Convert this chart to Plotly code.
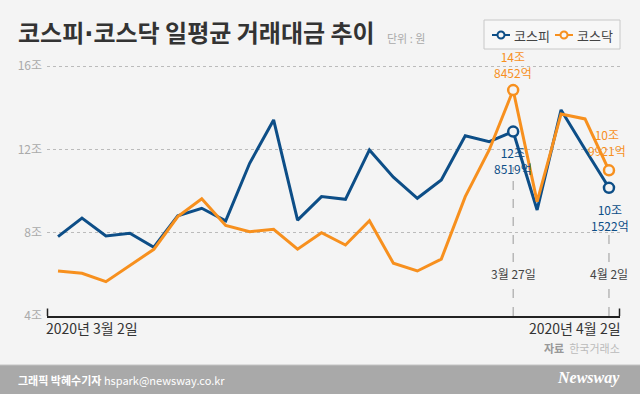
import plotly.graph_objects as go

# ---------------- data ----------------
dates = ["3/2", "3/3", "3/4", "3/5", "3/6", "3/9", "3/10", "3/11", "3/12", "3/13",
         "3/16", "3/17", "3/18", "3/19", "3/20", "3/23", "3/24", "3/25", "3/26", "3/27",
         "3/30", "3/31", "4/1", "4/2"]
kospi = [7.81, 8.70, 7.84, 7.97, 7.30, 8.81, 9.17, 8.57, 11.33, 13.41,
         8.60, 9.73, 9.60, 11.97, 10.66, 9.65, 10.53, 12.65, 12.37, 12.8519,
         9.09, 13.89, 12.00, 10.1522]
kosdaq = [6.16, 6.05, 5.65, 6.41, 7.20, 8.77, 9.63, 8.35, 8.05, 8.16,
          7.21, 8.00, 7.41, 8.57, 6.53, 6.16, 6.73, 9.73, 11.97, 14.8452,
          9.49, 13.70, 13.46, 10.9921]
yticks = [4, 8, 12, 16]
ytick_text = ["4조", "8조", "12조", "16조"]
highlight_dates = ["3/27", "4/2"]
highlight_text = ["3월 27일", "4월 2일"]
start_label = "2020년 3월 2일"
end_label = "2020년 4월 2일"
names = ["코스피", "코스닥"]

BLUE = "#0d4e87"
ORANGE = "#f7901e"
BG = "#f4f4f4"
FONT = "Noto Sans CJK KR"

# plot area in pixels
W_PX, H_PX = 640, 394
L, R, T, B = 47, 620, 54, 316
PW, PH = R - L, B - T


def px(x):
    return (x - L) / PW


def py(y):
    return (B - y) / PH


def fmt(v):
    jo = int(v)
    eok = int(round((v - jo) * 10000))
    return f"{jo}조<br>{eok}억"


hidx = [dates.index(d) for d in highlight_dates]

fig = go.Figure()
for vals, col, nm in [(kospi, BLUE, names[0]), (kosdaq, ORANGE, names[1])]:
    fig.add_trace(go.Scatter(x=dates, y=vals, mode="lines", line=dict(color=col, width=3),
                             showlegend=False, hoverinfo="skip", name=nm))
    fig.add_trace(go.Scatter(x=[dates[i] for i in hidx], y=[vals[i] for i in hidx], mode="markers",
                             marker=dict(symbol="circle", size=10, color=BG,
                                         line=dict(color=col, width=2.5)),
                             showlegend=False, hoverinfo="skip"))

shapes = []
# dashed verticals
for i in hidx:
    shapes.append(dict(type="line", xref="x", yref="y", x0=i, x1=i, y0=yticks[0],
                       y1=kospi[i] - 1.7, line=dict(color="#999", width=1, dash="dash"),
                       layer="below"))
# axis end ticks
for xx in [L + 0.5, R - 0.5]:
    shapes.append(dict(type="line", xref="paper", yref="paper", x0=px(xx), x1=px(xx),
                       y0=py(316), y1=py(308.5), line=dict(color="#222", width=1.5)))
# footer band
shapes.append(dict(type="rect", xref="paper", yref="paper", x0=px(0), x1=px(W_PX),
                   y0=py(H_PX), y1=py(365), fillcolor="#a9a9a9", line=dict(width=0),
                   layer="below"))
shapes.append(dict(type="line", xref="paper", yref="paper", x0=px(0), x1=px(W_PX),
                   y0=py(365), y1=py(365), line=dict(color="#c4c4c4", width=1)))
# legend box (manual)
shapes.append(dict(type="rect", xref="paper", yref="paper", x0=px(484), x1=px(620),
                   y0=py(49), y1=py(20), fillcolor="#f7f7f7",
                   line=dict(color="#c8c8c8", width=1)))
leg_items = [(BLUE, names[0], 492, 515), (ORANGE, names[1], 555, 578)]
for col, nm, sx, tx in leg_items:
    shapes.append(dict(type="line", xref="paper", yref="paper", x0=px(sx), x1=px(sx + 18),
                       y0=py(35), y1=py(35), line=dict(color=col, width=2)))
    shapes.append(dict(type="circle", xref="paper", yref="paper", x0=px(sx + 5.5),
                       x1=px(sx + 12.5), y0=py(38.5), y1=py(31.5), fillcolor="#f7f7f7",
                       line=dict(color=col, width=2)))

ann = []
# value labels
ann.append(dict(x=hidx[0], y=kosdaq[hidx[0]], text=fmt(kosdaq[hidx[0]]), yanchor="bottom",
                yshift=7, font=dict(color=ORANGE, size=12)))
ann.append(dict(x=hidx[0], y=kospi[hidx[0]], text=fmt(kospi[hidx[0]]), yanchor="top",
                yshift=-10, font=dict(color=BLUE, size=12)))
ann.append(dict(x=hidx[1], y=kosdaq[hidx[1]], text=fmt(kosdaq[hidx[1]]), yanchor="bottom",
                yshift=9, xshift=-2, font=dict(color=ORANGE, size=12)))
ann.append(dict(x=hidx[1], y=kospi[hidx[1]], text=fmt(kospi[hidx[1]]), yanchor="top",
                yshift=-11, xshift=1, font=dict(color=BLUE, size=12)))
for a in ann:
    a.update(xref="x", yref="y", showarrow=False, align="center", xanchor="center",
             font=dict(family=FONT, **a["font"]))
# date labels on dashed lines
for i, t in zip(hidx, highlight_text):
    ann.append(dict(x=i, y=py(273), xref="x", yref="paper", text=t, showarrow=False,
                    xanchor="center", yanchor="middle", bgcolor=BG, borderpad=1,
                    font=dict(family=FONT, size=12, color="#444")))
# start/end labels
ann.append(dict(x=px(44), y=py(328), xref="paper", yref="paper", text=start_label,
                showarrow=False, xanchor="left", yanchor="middle",
                font=dict(family=FONT, size=14, color="#333")))
ann.append(dict(x=px(623), y=py(328), xref="paper", yref="paper", text=end_label,
                showarrow=False, xanchor="right", yanchor="middle",
                font=dict(family=FONT, size=14, color="#333")))
ann.append(dict(x=px(622), y=py(348), xref="paper", yref="paper",
                text="<b>자료</b>  <span style='color:#bbbbbb'>한국거래소</span>",
                showarrow=False, xanchor="right", yanchor="middle",
                font=dict(family=FONT, size=11, color="#999")))
# legend texts
for col, nm, sx, tx in leg_items:
    ann.append(dict(x=px(tx - 3), y=py(35), xref="paper", yref="paper", text=nm,
                    showarrow=False, xanchor="left", yanchor="middle",
                    font=dict(family=FONT, size=13, color="#444")))
# title
ann.append(dict(x=px(16), y=py(32), xref="paper", yref="paper",
                text="<b>코스피<span style='font-family:DejaVu Sans'>·</span>코스닥 일평균 거래대금 추이</b>",
                showarrow=False, xanchor="left", yanchor="middle",
                font=dict(family=FONT, size=24, color="#333")))
ann.append(dict(x=px(385), y=py(38), xref="paper", yref="paper", text="단위 : 원",
                showarrow=False, xanchor="left", yanchor="middle",
                font=dict(family=FONT, size=11, color="#aaa")))
# footer
ann.append(dict(x=px(16), y=py(380), xref="paper", yref="paper",
                text="<b>그래픽 박혜수기자</b> hspark@newsway.co.kr",
                showarrow=False, xanchor="left", yanchor="middle",
                font=dict(family=FONT, size=11, color="white")))
ann.append(dict(x=px(622), y=py(378), xref="paper", yref="paper",
                text="<b><i>Newsway</i></b>",
                showarrow=False, xanchor="right", yanchor="middle",
                font=dict(family="Liberation Serif", size=16, color="white")))

fig.update_layout(
    width=W_PX, height=H_PX,
    margin=dict(l=L, r=W_PX - R, t=T, b=H_PX - B, autoexpand=False),
    paper_bgcolor=BG, plot_bgcolor=BG,
    font=dict(family=FONT),
    shapes=shapes, annotations=ann,
    showlegend=False,
    xaxis=dict(type="category", range=[-0.46, len(dates) - 1 + 0.46],
               showticklabels=False, showgrid=False, zeroline=False,
               showline=True, linecolor="#222", linewidth=1.5, ticks=""),
    yaxis=dict(range=[yticks[0], yticks[0] + PH / ((B - 66) / (yticks[-1] - yticks[0]))],
               tickvals=yticks, ticktext=ytick_text, showgrid=True,
               gridcolor="#bbbbbb", griddash="dot", gridwidth=1, zeroline=False,
               showline=False, ticks="", ticklabelstandoff=4,
               tickfont=dict(family=FONT, size=12, color="#aaaaaa")),
)

fig.write_html("out.html", config={"displayModeBar": False},
               post_script="document.body.style.margin='0';document.body.style.padding='0';"
                           "document.body.style.overflow='hidden';")
